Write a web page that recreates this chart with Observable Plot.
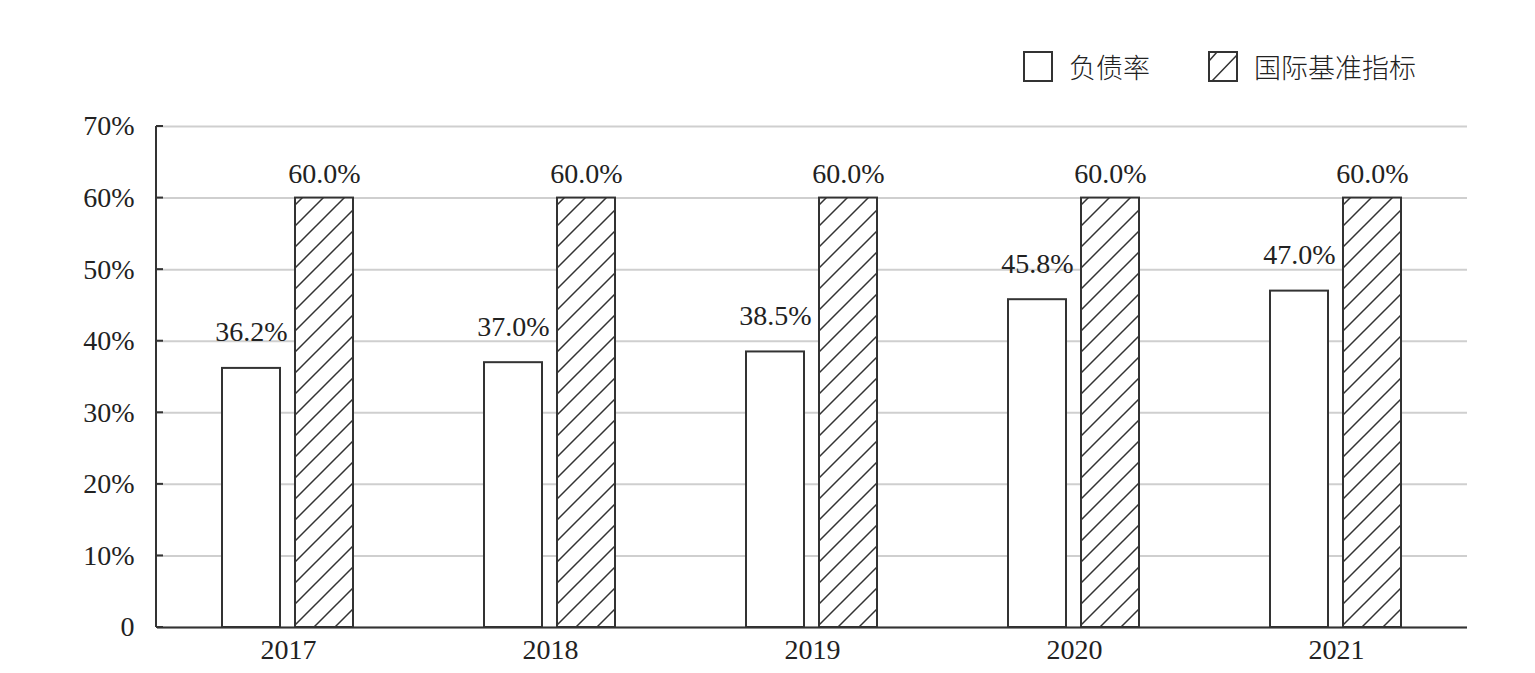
<!DOCTYPE html>
<html>
<head>
<meta charset="utf-8">
<script src="https://cdn.jsdelivr.net/npm/d3@7"></script>
<script src="https://cdn.jsdelivr.net/npm/@observablehq/plot@0.6"></script>
<style>
  html, body { margin: 0; padding: 0; background: #fff; }
  #wrap { position: relative; width: 1535px; height: 673px; }
  #legend { position: absolute; left: 0; top: 0; width: 1535px; height: 100px; }
  .item { position: absolute; top: 47px; display: flex; align-items: center; font-family: "Noto Sans CJK SC", sans-serif; font-weight: 300; font-size: 27px; color: #222; }
  .item svg { margin-right: 16px; }
  #chart { position: absolute; left: 0; top: 100px; }
  #chart svg text { font-family: "Liberation Serif", "Times New Roman", serif !important; }
</style>
</head>
<body>
<div id="wrap">
  <div id="legend"></div>
  <div id="chart"></div>
</div>
<script>
const years = ["2017", "2018", "2019", "2020", "2021"];
const seriesNames = ["负债率", "国际基准指标"];
const debtRatio = [36.2, 37.0, 38.5, 45.8, 47.0];
const benchmark = [60.0, 60.0, 60.0, 60.0, 60.0];
const yTicks = [0, 10, 20, 30, 40, 50, 60, 70];

const data = [];
years.forEach((y, i) => {
  data.push({year: y, series: seriesNames[0], value: debtRatio[i]});
  data.push({year: y, series: seriesNames[1], value: benchmark[i]});
});

const serif = "Liberation Serif";

const chart = Plot.plot({
  width: 1535,
  height: 573,
  marginTop: 26,
  marginBottom: 46,
  marginLeft: 156,
  marginRight: 67,
  style: {fontFamily: serif, fontSize: "28px", color: "#222", background: "#fff"},
  fx: {domain: years, padding: 0, label: null},
  x: {domain: seriesNames, paddingInner: 15/74, paddingOuter: 0.874, axis: null},
  y: {domain: [0, 70], label: null},
  marks: [
    Plot.gridY(yTicks, {stroke: "#cfcfcf", strokeOpacity: 1, strokeWidth: 2}),
    Plot.axisY({
      ticks: yTicks, tickSize: 0, tickPadding: 23,
      fontSize: 28, fontFamily: serif, label: null,
      tickFormat: d => d === 0 ? "0" : d + "%"
    }),
    Plot.axisFx({anchor: "bottom", tickSize: 0, tickPadding: 12, fontSize: 28, fontFamily: serif, label: null}),
    Plot.barY(data, {
      fx: "year", x: "series", y: "value",
      fill: d => d.series === seriesNames[0] ? "#fff" : "url(#hatch)",
      stroke: "#333", strokeWidth: 2
    }),
    Plot.ruleY([0], {stroke: "#333", strokeWidth: 2}),
    Plot.text(data.filter(d => d.series === seriesNames[0]), {
      fx: "year", x: "series", y: "value",
      text: d => d.value.toFixed(1) + "%",
      lineAnchor: "bottom", dy: -27, fontSize: 28, fontFamily: serif, fill: "#222"
    }),
    Plot.text(data.filter(d => d.series === seriesNames[1]), {
      fx: "year", x: "series", y: "value",
      text: d => d.value.toFixed(1) + "%",
      lineAnchor: "bottom", dy: -15, fontSize: 28, fontFamily: serif, fill: "#222"
    })
  ]
});

// hatch pattern definition
const ns = "http://www.w3.org/2000/svg";
const defs = document.createElementNS(ns, "defs");
defs.innerHTML = `<pattern id="hatch" patternUnits="userSpaceOnUse" width="21" height="21">
  <rect width="21" height="21" fill="#fff"/>
  <path d="M-3,3 L3,-3 M0,21 L21,0 M18,24 L24,18" stroke="#333" stroke-width="1.5"/>
</pattern>`;
chart.insertBefore(defs, chart.firstChild);

// left axis line with inward ticks, positioned by Plot's y scale
const yScale = chart.scale("y");
const axisX = 156;
const g = d3.select(chart).append("g").attr("stroke", "#333").attr("stroke-width", 2);
g.append("line")
  .attr("x1", axisX).attr("x2", axisX)
  .attr("y1", yScale.apply(0)).attr("y2", yScale.apply(70));
g.selectAll("line.tick").data(yTicks).join("line")
  .attr("class", "tick")
  .attr("x1", axisX).attr("x2", axisX + 7)
  .attr("y1", d => yScale.apply(d)).attr("y2", d => yScale.apply(d));

document.getElementById("chart").appendChild(chart);

// legend
const legend = document.getElementById("legend");
const items = [
  {label: seriesNames[0], left: 1023, hatch: false},
  {label: seriesNames[1], left: 1208, hatch: true}
];
items.forEach(it => {
  const div = document.createElement("div");
  div.className = "item";
  div.style.left = it.left + "px";
  const sw = !it.hatch
    ? `<svg width="30" height="31"><rect x="1" y="1" width="28" height="29" fill="#fff" stroke="#333" stroke-width="2"/></svg>`
    : `<svg width="30" height="31"><rect x="1" y="1" width="28" height="29" fill="#fff" stroke="#333" stroke-width="2"/><path d="M4,30 L29,4 M1,10 L9,1" stroke="#333" stroke-width="1.5"/></svg>`;
  div.innerHTML = sw + `<span>${it.label}</span>`;
  legend.appendChild(div);
});
</script>
</body>
</html>
